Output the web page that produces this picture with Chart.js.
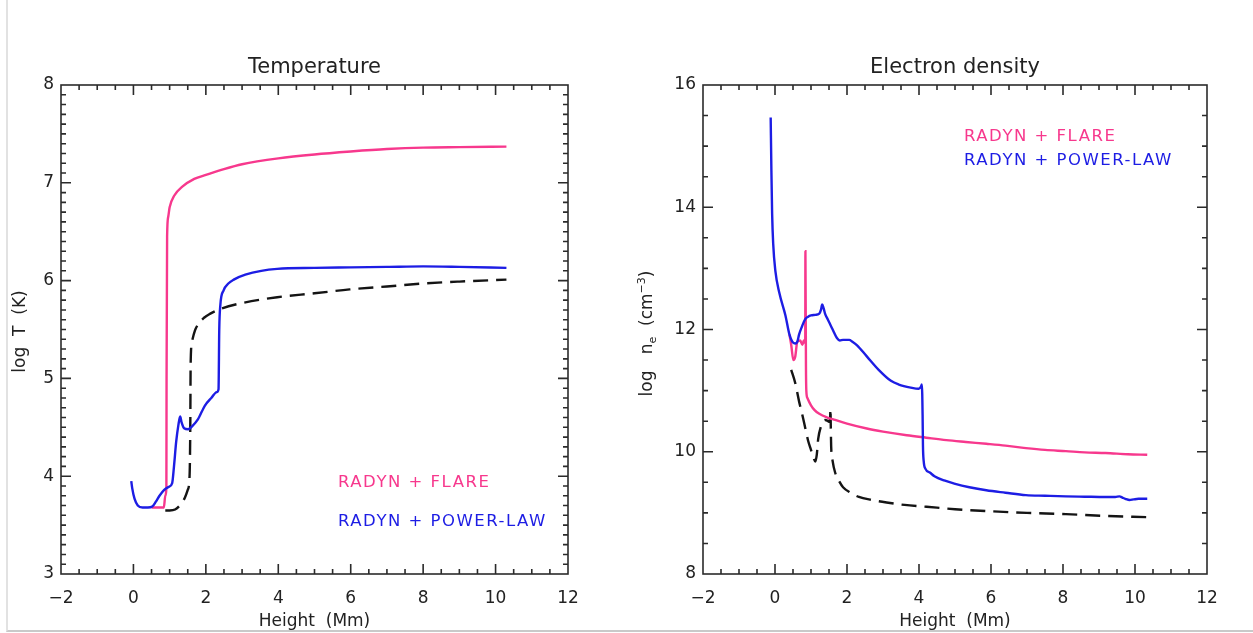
<!DOCTYPE html>
<html>
<head>
<meta charset="utf-8">
<title>RADYN atmospheres: temperature and electron density</title>
<script src="https://cdn.jsdelivr.net/npm/chart.js@4/dist/chart.umd.min.js"></script>
<style>
  html, body { margin: 0; padding: 0; background: #fff; }
  body { width: 1253px; height: 633px; position: relative; overflow: hidden; }
  .sheet { position: absolute; left: 6px; top: 0; width: 1247px; height: 632px;
           border-left: 2px solid #e2e2e2; border-bottom: 2px solid #c9c9c9; box-sizing: border-box; }
  .panel { position: absolute; top: 0; height: 633px; }
  canvas { display: block; }
</style>
</head>
<body>
<div class="sheet"></div>
<div class="panel" style="left:0;width:626px"><canvas id="tempChart" width="626" height="633"></canvas></div>
<div class="panel" style="left:626px;width:627px"><canvas id="densChart" width="627" height="633"></canvas></div>
<script>
// ---- series names ----
const seriesFlare = 'RADYN + FLARE';
const seriesPower = 'RADYN + POWER-LAW';

// ---- Temperature panel: height (Mm) and log T (K) ----
const tempPowerHeight = [-0.06, -0.03, 0.03, 0.12, 0.25, 0.40, 0.52, 0.62, 0.72, 0.85, 0.97, 1.07, 1.12, 1.18, 1.24, 1.29, 1.33, 1.40, 1.51, 1.62, 1.78, 1.97, 2.15, 2.30, 2.35, 2.37, 2.40, 2.49, 2.62, 2.77, 3.09, 3.53, 3.97, 5.0, 6.0, 7.0, 8.0, 9.0, 10.3];
const tempPowerLogT   = [3.95, 3.87, 3.77, 3.70, 3.68, 3.68, 3.69, 3.74, 3.80, 3.86, 3.89, 3.93, 4.10, 4.35, 4.52, 4.61, 4.55, 4.49, 4.48, 4.51, 4.58, 4.72, 4.80, 4.86, 4.89, 5.50, 5.75, 5.90, 5.97, 6.01, 6.06, 6.10, 6.12, 6.13, 6.135, 6.14, 6.145, 6.14, 6.13];

const tempFlareHeight = [0.50, 0.84, 0.88, 0.91, 0.915, 0.93, 0.96, 1.00, 1.13, 1.35, 1.68, 2.0, 2.5, 3.0, 4.0, 5.0, 6.0, 7.0, 8.0, 9.0, 10.3];
const tempFlareLogT   = [3.68, 3.68, 3.80, 3.88, 5.00, 6.45, 6.65, 6.75, 6.87, 6.96, 7.04, 7.08, 7.14, 7.19, 7.25, 7.29, 7.32, 7.345, 7.36, 7.365, 7.37];

const tempPreHeight = [0.88, 1.00, 1.15, 1.30, 1.42, 1.50, 1.55, 1.57, 1.58, 1.62, 1.70, 1.78, 1.95, 2.11, 2.4, 2.87, 3.97, 5.0, 5.97, 7.0, 8.0, 9.0, 10.3];
const tempPreLogT   = [3.65, 3.65, 3.66, 3.71, 3.78, 3.86, 4.00, 4.50, 5.15, 5.38, 5.49, 5.55, 5.62, 5.66, 5.71, 5.76, 5.83, 5.87, 5.91, 5.94, 5.97, 5.99, 6.01];

// ---- Electron density panel: height (Mm) and log n_e (cm^-3) ----
const densPowerHeight = [-0.12, -0.10, -0.08, -0.05, 0.01, 0.12, 0.29, 0.40, 0.48, 0.56, 0.62, 0.67, 0.75, 0.84, 0.92, 1.00, 1.12, 1.23, 1.28, 1.31, 1.35, 1.39, 1.47, 1.56, 1.64, 1.72, 1.80, 1.89, 2.06, 2.15, 2.28, 2.55, 2.88, 3.22, 3.44, 3.77, 3.99, 4.05, 4.08, 4.10, 4.11, 4.13, 4.18, 4.30, 4.43, 4.70, 4.98, 5.4, 5.87, 6.4, 6.97, 7.5, 8.08, 8.6, 9.18, 9.45, 9.57, 9.65, 9.73, 9.85, 9.96, 10.1, 10.34];
const densPowerLogNe  = [15.47, 14.6, 13.9, 13.4, 12.96, 12.6, 12.23, 11.92, 11.80, 11.77, 11.80, 11.92, 12.05, 12.17, 12.21, 12.23, 12.24, 12.26, 12.33, 12.41, 12.35, 12.26, 12.16, 12.05, 11.95, 11.86, 11.82, 11.83, 11.83, 11.80, 11.74, 11.56, 11.34, 11.16, 11.10, 11.05, 11.03, 11.06, 11.10, 10.6, 10.1, 9.85, 9.72, 9.66, 9.60, 9.53, 9.48, 9.42, 9.37, 9.33, 9.29, 9.28, 9.27, 9.265, 9.26, 9.26, 9.27, 9.25, 9.23, 9.21, 9.22, 9.23, 9.23];

const densFlareHeight = [0.40, 0.45, 0.51, 0.56, 0.62, 0.70, 0.76, 0.80, 0.84, 0.845, 0.86, 0.87, 0.90, 1.0, 1.1, 1.23, 1.45, 1.67, 2.0, 2.55, 3.0, 3.66, 4.2, 4.76, 5.3, 5.87, 6.4, 6.97, 7.5, 8.08, 8.6, 9.18, 9.8, 10.34];
const densFlareLogNe  = [11.92, 11.75, 11.50, 11.55, 11.80, 11.82, 11.75, 11.82, 11.78, 13.28, 11.40, 11.00, 10.88, 10.76, 10.68, 10.62, 10.56, 10.52, 10.46, 10.38, 10.33, 10.27, 10.23, 10.19, 10.16, 10.13, 10.10, 10.06, 10.03, 10.01, 9.99, 9.98, 9.96, 9.95];

const densPreHeight = [0.45, 0.56, 0.67, 0.76, 0.84, 0.92, 1.00, 1.06, 1.12, 1.16, 1.20, 1.28, 1.34, 1.39, 1.45, 1.50, 1.53, 1.54, 1.55, 1.56, 1.60, 1.67, 1.78, 1.89, 2.1, 2.33, 2.7, 3.1, 3.6, 4.21, 5.0, 5.87, 7.0, 8.08, 9.2, 10.34];
const densPreLogNe  = [11.34, 11.13, 10.82, 10.60, 10.39, 10.18, 10.03, 9.92, 9.84, 9.95, 10.21, 10.42, 10.50, 10.52, 10.51, 10.49, 10.55, 10.70, 10.40, 10.09, 9.85, 9.66, 9.52, 9.42, 9.33, 9.26, 9.21, 9.17, 9.13, 9.10, 9.06, 9.03, 9.00, 8.98, 8.95, 8.93];

// ---- axis ranges ----
const heightRange = [-2, 12];
const tempRange = [3, 8];
const densRange = [8, 16];

// ---- styling ----
const PINK = '#f7388d';
const BLUE = '#1d1de4';
const BLACK = '#141414';
const INK = '#222222';
const FONT = '"DejaVu Sans", "Liberation Sans", sans-serif';

const toPoints = (xs, ys) => xs.map((x, i) => ({ x, y: ys[i] }));
const minusSign = v => (v < 0 ? '\u2212' + Math.abs(v) : String(v));

// Closed frame with inward major/minor tick marks on all four sides
const frameTicks = {
  id: 'frameTicks',
  afterDraw(chart, args, o) {
    const { ctx, chartArea: a } = chart;
    const xs = chart.scales.x, ys = chart.scales.y;
    ctx.save();
    ctx.strokeStyle = '#2b2b2b';
    ctx.lineWidth = 1.6;
    ctx.strokeRect(a.left, a.top, a.right - a.left, a.bottom - a.top);
    const marks = (scale, minor, major, fn) => {
      const n = Math.round((scale.max - scale.min) / minor);
      for (let i = 1; i < n; i++) {
        const v = scale.min + i * minor;
        const q = v / major;
        const isMajor = Math.abs(q - Math.round(q)) < 1e-6;
        fn(scale.getPixelForValue(v), isMajor ? 10 : 5);
      }
    };
    ctx.beginPath();
    marks(xs, o.xMinor, o.xMajor, (p, len) => {
      ctx.moveTo(p, a.bottom); ctx.lineTo(p, a.bottom - len);
      ctx.moveTo(p, a.top); ctx.lineTo(p, a.top + len);
    });
    marks(ys, o.yMinor, o.yMajor, (p, len) => {
      ctx.moveTo(a.left, p); ctx.lineTo(a.left + len, p);
      ctx.moveTo(a.right, p); ctx.lineTo(a.right - len, p);
    });
    ctx.stroke();
    ctx.restore();
  }
};

// Panel title, axis titles (with sub/superscripts) and the coloured series key
const panelText = {
  id: 'panelText',
  afterDraw(chart, args, o) {
    const { ctx, chartArea: a } = chart;
    const cx = (a.left + a.right) / 2;
    ctx.save();
    ctx.fillStyle = INK;
    ctx.textAlign = 'center';
    ctx.textBaseline = 'alphabetic';
    ctx.font = '21px ' + FONT;
    ctx.fillText(o.title, cx, o.titleY);
    ctx.font = '17px ' + FONT;
    ctx.fillText(o.xTitle, cx, o.xTitleY);

    // vertical axis title built from runs
    ctx.save();
    ctx.translate(o.yTitleX, (a.top + a.bottom) / 2 + o.yTitleShift);
    ctx.rotate(-Math.PI / 2);
    ctx.textAlign = 'left';
    ctx.textBaseline = 'middle';
    const runs = o.yTitle.map(r => ({ ...r, size: r.sub || r.sup ? 11 : 17 }));
    let total = 0;
    runs.forEach(r => { ctx.font = r.size + 'px ' + FONT; r.w = ctx.measureText(r.t).width; total += r.w; });
    let px = -total / 2;
    runs.forEach(r => {
      ctx.font = r.size + 'px ' + FONT;
      const dy = r.sub ? 5 : (r.sup ? -6 : 0);
      ctx.fillText(r.t, px, dy);
      px += r.w;
    });
    ctx.restore();

    // key: each labelled dataset in its own line colour
    ctx.textAlign = 'left';
    ctx.font = '16.5px ' + FONT;
    if ('letterSpacing' in ctx) ctx.letterSpacing = '1.5px';
    chart.data.datasets.filter(d => d.label).slice().sort((p, q) => p.keyRank - q.keyRank)
      .forEach((d, i) => {
        ctx.fillStyle = d.borderColor;
        ctx.fillText(d.label, o.keyX, o.keyY[i]);
      });
    ctx.restore();
  }
};

function makePanel(id, spec) {
  const canvas = document.getElementById(id);
  return new Chart(canvas, {
    type: 'scatter',
    data: {
      datasets: [
        { label: seriesPower, keyRank: 1, data: toPoints(spec.power[0], spec.power[1]), borderColor: BLUE },
        { label: seriesFlare, keyRank: 0, data: toPoints(spec.flare[0], spec.flare[1]), borderColor: PINK },
        { label: '', keyRank: 2, data: toPoints(spec.pre[0], spec.pre[1]), borderColor: BLACK, borderDash: [15, 8] }
      ].map(d => ({ ...d, showLine: true, pointRadius: 0, borderWidth: 2.4,
                    cubicInterpolationMode: 'monotone', fill: false }))
    },
    options: {
      responsive: false,
      animation: false,
      devicePixelRatio: 1,
      layout: { padding: { left: 0, top: spec.top, right: spec.padRight, bottom: 0 } },
      plugins: {
        legend: { display: false },
        tooltip: { enabled: false },
        frameTicks: { xMinor: 0.5, xMajor: 2, yMinor: spec.yMinor, yMajor: spec.yMajor },
        panelText: spec.text
      },
      scales: {
        x: {
          type: 'linear', min: heightRange[0], max: heightRange[1],
          grid: { display: false, drawTicks: false }, border: { display: false },
          ticks: { stepSize: 2, color: INK, font: { family: FONT, size: 17 }, padding: 14,
                   maxRotation: 0, callback: minusSign },
          afterFit: s => { s.height = spec.xHeight; s.paddingLeft = 0; s.paddingRight = 0; }
        },
        y: {
          type: 'linear', min: spec.yRange[0], max: spec.yRange[1],
          grid: { display: false, drawTicks: false }, border: { display: false },
          ticks: { stepSize: spec.yMajor, color: INK, font: { family: FONT, size: 17 }, padding: 7,
                   callback: minusSign },
          afterFit: s => { s.width = spec.yWidth; s.paddingTop = 0; s.paddingBottom = 0; }
        }
      }
    },
    plugins: [frameTicks, panelText]
  });
}

makePanel('tempChart', {
  power: [tempPowerHeight, tempPowerLogT],
  flare: [tempFlareHeight, tempFlareLogT],
  pre: [tempPreHeight, tempPreLogT],
  yRange: tempRange, yMajor: 1, yMinor: 0.1,
  top: 85, padRight: 58, yWidth: 61, xHeight: 59,
  text: {
    title: 'Temperature', titleY: 73,
    xTitle: 'Height  (Mm)', xTitleY: 626,
    yTitle: [{ t: 'log  T  (K)' }], yTitleX: 21, yTitleShift: 2,
    keyX: 338, keyY: [487, 526]
  }
});

makePanel('densChart', {
  power: [densPowerHeight, densPowerLogNe],
  flare: [densFlareHeight, densFlareLogNe],
  pre: [densPreHeight, densPreLogNe],
  yRange: densRange, yMajor: 2, yMinor: 0.5,
  top: 85, padRight: 46, yWidth: 77, xHeight: 59,
  text: {
    title: 'Electron density', titleY: 73,
    xTitle: 'Height  (Mm)', xTitleY: 626,
    yTitle: [{ t: 'log   n' }, { t: 'e', sub: true }, { t: '  (cm' }, { t: '\u22123', sup: true }, { t: ')' }],
    yTitleX: 22, yTitleShift: 4,
    keyX: 338, keyY: [141, 165]
  }
});
</script>
</body>
</html>
